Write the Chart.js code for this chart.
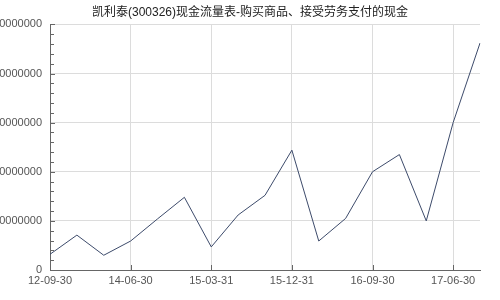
<!DOCTYPE html>
<html>
<head>
<meta charset="utf-8">
<script src="https://cdn.jsdelivr.net/npm/chart.js@4/dist/chart.umd.min.js"></script>
<style>
  body { margin: 0; background: #fff; }
  #wrap { width: 500px; height: 300px; }
</style>
</head>
<body>
<div id="wrap"><canvas id="chart" width="500" height="300"></canvas></div>
<script>
// Report dates (every third one is labelled on the axis)
const periods = [
  "12-09-30", "12-12-31", "13-12-31", "14-06-30", "14-09-30", "14-12-31",
  "15-03-31", "15-06-30", "15-09-30", "15-12-31", "16-03-31", "16-06-30",
  "16-09-30", "16-12-31", "17-03-31", "17-06-30", "17-09-30"
];
// Cash paid for goods and services (yuan)
const cashPaid = [
  32000000, 71000000, 30000000, 59000000, 104000000, 148000000,
  47000000, 112000000, 152000000, 244000000, 59000000, 105000000,
  200000000, 235000000, 100000000, 300000000, 462000000
];
const yTicks = [0, 100000000, 200000000, 300000000, 400000000, 500000000];
const yMinorStep = 20000000;
const labelEvery = 3;

const titleText = "凯利泰(300326)现金流量表-购买商品、接受劳务支付的现金";
const fontFamily = "'Liberation Sans', Arial, 'Noto Sans CJK SC', sans-serif";

// small tick marks drawn inside the plot, like the original
const innerTicks = {
  id: "innerTicks",
  afterDraw(chart) {
    const { ctx, chartArea, scales } = chart;
    ctx.save();
    ctx.strokeStyle = "#666";
    ctx.lineWidth = 1;
    ctx.beginPath();
    const top = yTicks[yTicks.length - 1];
    for (let v = 0; v <= top; v += yMinorStep) {
      const y = Math.round(scales.y.getPixelForValue(v)) + 0.5;
      const len = yTicks.includes(v) ? 5 : 4;
      ctx.moveTo(chartArea.left, y);
      ctx.lineTo(chartArea.left + len, y);
    }
    periods.forEach((p, i) => {
      if (i % labelEvery !== 0) return;
      const x = Math.round(scales.x.getPixelForValue(i)) + 0.5;
      ctx.moveTo(x, chartArea.bottom);
      ctx.lineTo(x, chartArea.bottom - 5);
    });
    ctx.stroke();
    ctx.restore();
  }
};

const ctx = document.getElementById("chart").getContext("2d");
new Chart(ctx, {
  type: "line",
  data: {
    labels: periods,
    datasets: [{
      data: cashPaid,
      borderColor: "#3d4b6b",
      borderWidth: 1,
      pointRadius: 0,
      tension: 0,
      fill: false
    }]
  },
  options: {
    responsive: false,
    animation: false,
    layout: { padding: 0 },
    plugins: {
      legend: { display: false },
      tooltip: { enabled: false },
      title: {
        display: true,
        text: titleText,
        color: "#222",
        font: { family: fontFamily, size: 12, weight: "normal" },
        padding: { top: 5, bottom: 5 }
      }
    },
    scales: {
      x: {
        offset: false,
        grid: {
          color: c => (c.index % labelEvery === 0 && c.index > 0) ? "#dcdcdc" : "transparent",
          drawTicks: false
        },
        border: { color: "#666" },
        ticks: {
          autoSkip: false,
          maxRotation: 0,
          padding: 4,
          color: "#555",
          font: { family: fontFamily, size: 11 },
          callback: (v, i) => (i % labelEvery === 0 ? periods[i] : "")
        },
        afterFit: s => { s.height = 30; }
      },
      y: {
        min: 0,
        max: yTicks[yTicks.length - 1],
        afterBuildTicks: s => { s.ticks = yTicks.map(v => ({ value: v })); },
        grid: { color: "#dcdcdc", drawTicks: false },
        border: { color: "#666" },
        ticks: {
          padding: 8,
          color: "#555",
          font: { family: fontFamily, size: 11 },
          callback: v => String(v)
        },
        afterFit: s => { s.width = 50; }
      },
      // empty right-hand axis: keeps a blank strip so the title stays centred on the page
      yRight: {
        position: "right",
        grid: { display: false },
        border: { display: false },
        ticks: { display: false },
        afterFit: s => { s.width = 20; }
      }
    }
  },
  plugins: [innerTicks]
});
</script>
</body>
</html>
